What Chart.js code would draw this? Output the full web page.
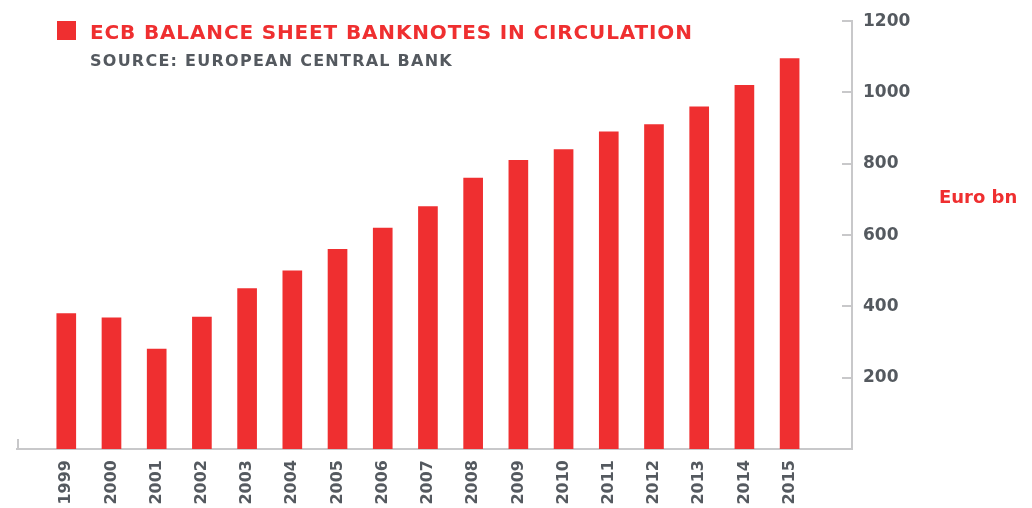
<!DOCTYPE html>
<html>
<head>
<meta charset="utf-8">
<script src="https://cdn.jsdelivr.net/npm/chart.js@4"></script>
<style>
  html, body { margin: 0; padding: 0; background: #fff; }
  #wrap { position: relative; width: 1032px; height: 508px; overflow: hidden; }
  #wrap canvas { position: absolute; left: 0; top: 0; }
  .key { position: absolute; left: 57px; top: 21px; width: 19px; height: 19px; background: #ef2f30; }
  .title, .source, .unit { position: absolute; font-family: "DejaVu Sans", sans-serif; font-weight: bold; white-space: nowrap; }
  .title { left: 90px; top: 22px; font-size: 20px; line-height: 20px; letter-spacing: 0.85px; color: #ef2f30; }
  .source { left: 90px; top: 53px; font-size: 16px; line-height: 16px; letter-spacing: 1.25px; color: #54595f; }
  .unit { left: 939px; top: 188px; font-size: 18px; line-height: 18px; color: #ef2f30; }
</style>
</head>
<body>
<div id="wrap">
  <canvas id="myBarChart" width="1032" height="508"></canvas>
  <div class="key"></div>
  <div class="title">ECB BALANCE SHEET BANKNOTES IN CIRCULATION</div>
  <div class="source">SOURCE: EUROPEAN CENTRAL BANK</div>
  <div class="unit">Euro bn</div>
</div>
<script>
// ข้อมูลกราฟ (อ่านค่าจากรูป)
const years = ['1999', '2000', '2001', '2002', '2003', '2004', '2005', '2006', '2007', '2008', '2009', '2010', '2011', '2012', '2013', '2014', '2015'];
const banknotes = [380, 368, 280, 370, 450, 500, 560, 620, 680, 760, 810, 840, 890, 910, 960, 1020, 1095];
const yTicks = [200, 400, 600, 800, 1000, 1200];

const red = '#ef2f30';
const grey = '#54595f';
const lineGrey = '#c8c8ca';

// ขีดสั้นๆ ของแกน: ปลายซ้ายแกน x และขีดของแกน y ที่ชี้เข้าด้านใน
const axisMarks = {
  id: 'axisMarks',
  afterDraw(chart) {
    const { ctx, chartArea } = chart;
    const yScale = chart.scales.y;
    ctx.save();
    ctx.strokeStyle = lineGrey;
    ctx.lineWidth = 2;
    ctx.beginPath();
    ctx.moveTo(chartArea.left + 1, chartArea.bottom);
    ctx.lineTo(chartArea.left + 1, chartArea.bottom - 10);
    yTicks.forEach(v => {
      const py = Math.round(yScale.getPixelForValue(v));
      ctx.moveTo(chartArea.right, py);
      ctx.lineTo(chartArea.right - 10, py);
    });
    ctx.stroke();
    ctx.restore();
  }
};

const ctx = document.getElementById('myBarChart').getContext('2d');
new Chart(ctx, {
  type: 'bar',
  data: {
    datasets: [{
      label: 'Banknotes in circulation',
      data: banknotes.map((v, i) => ({ x: i, y: v })),
      backgroundColor: red,
      borderWidth: 0,
      barThickness: 19
    }]
  },
  options: {
    responsive: false,
    animation: false,
    layout: { padding: { left: 17, top: 10, right: 0, bottom: 0 } },
    plugins: {
      legend: { display: false },
      tooltip: { enabled: false }
    },
    scales: {
      x: {
        type: 'linear',
        offset: false,
        min: -1.09,
        max: 17.38,
        afterBuildTicks: axis => { axis.ticks = years.map((y, i) => ({ value: i })); },
        afterFit: axis => { axis.height = 59; },
        grid: { display: true, drawOnChartArea: false, drawTicks: false },
        border: { display: true, color: lineGrey, width: 2 },
        ticks: {
          autoSkip: false,
          minRotation: 90,
          maxRotation: 90,
          padding: 11,
          color: grey,
          font: { family: 'DejaVu Sans', weight: 'bold', size: 16 },
          callback: v => years[v]
        }
      },
      y: {
        position: 'right',
        min: 0,
        max: 1200,
        afterBuildTicks: axis => { axis.ticks = yTicks.map(v => ({ value: v })); },
        afterFit: axis => { axis.width = 180; },
        grid: { drawOnChartArea: false, drawTicks: false },
        border: { display: true, color: lineGrey, width: 2 },
        ticks: {
          padding: 11,
          color: grey,
          font: { family: 'DejaVu Sans', weight: 'bold', size: 17 },
          callback: v => String(v)
        }
      }
    }
  },
  plugins: [axisMarks]
});
</script>
</body>
</html>
